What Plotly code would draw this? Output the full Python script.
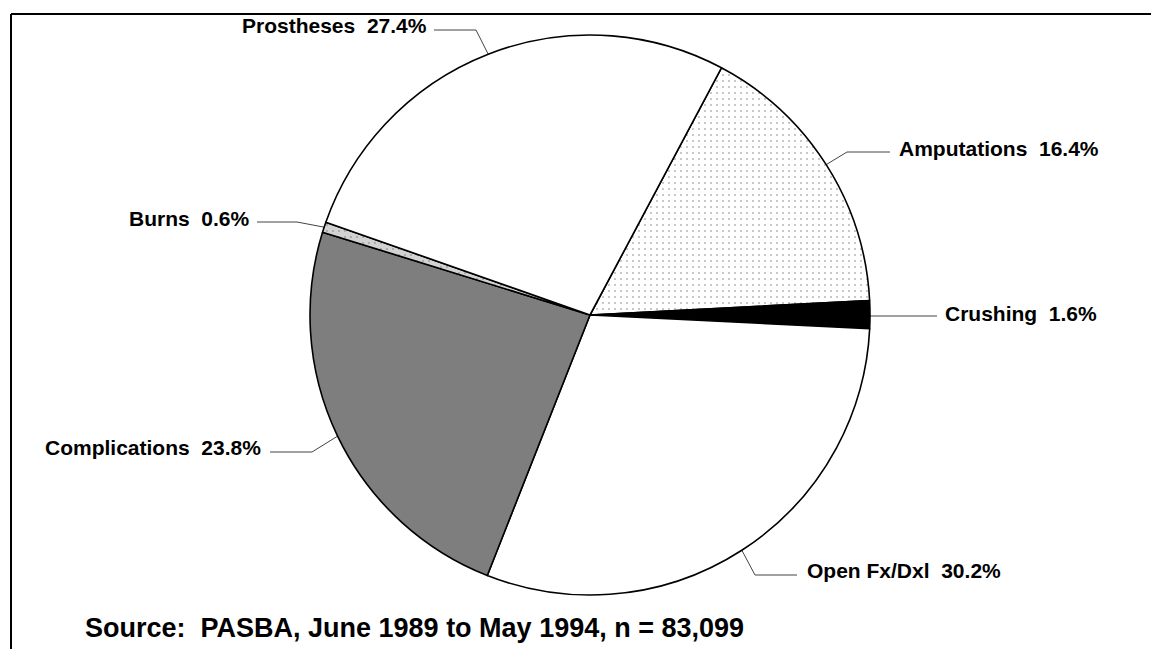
import math
import plotly.graph_objects as go

# ---- data ----
categories = ["Amputations", "Crushing", "Open Fx/Dxl", "Complications", "Burns", "Prostheses"]
percents = [16.4, 1.6, 30.2, 23.8, 0.6, 27.4]
source_note = "Source:  PASBA, June 1989 to May 1994, n = 83,099"

# ---- style / layout ----
W, H = 1151, 649
CX, CY, R = 590, 315, 280
ROTATION = 28
fills = ["#ffffff", "#000000", "#ffffff", "#7e7e7e", "#d2d2d2", "#ffffff"]
pattern_shapes = [".", "", "", "", ".", ""]
LABEL_FONT = dict(family="Liberation Sans, Arial, sans-serif", size=21, color="#000000")

# label layout: text left x, text y, elbow x, line end x, line y
label_layout = {
    "Amputations":   dict(tx=897, ty=148, ex=847, lx=890, ly=152),
    "Crushing":      dict(tx=943, ty=313, ex=900, lx=937, ly=316),
    "Open Fx/Dxl":   dict(tx=805, ty=570, ex=755, lx=797, ly=575),
    "Complications": dict(tx=43,  ty=447, ex=312, lx=270, ly=452),
    "Burns":         dict(tx=127, ty=218, ex=297, lx=257, ly=222),
    "Prostheses":    dict(tx=240, ty=25,  ex=476, lx=434, ly=30),
}

fig = go.Figure()

fig.add_trace(go.Pie(
    labels=categories,
    values=percents,
    sort=False,
    direction="clockwise",
    rotation=ROTATION,
    textinfo="none",
    hoverinfo="skip",
    showlegend=False,
    marker=dict(
        colors=fills,
        line=dict(color="#000000", width=1.6),
        pattern=dict(shape=pattern_shapes, fgcolor="#666666", bgcolor=fills,
                     size=6, solidity=0.08, fillmode="overlay"),
    ),
    domain=dict(x=[(CX - R) / W, (CX + R) / W], y=[1 - (CY + R) / H, 1 - (CY - R) / H]),
))

# leader lines: start at the rim, at each slice's middle angle (computed from the data)
total = sum(percents)
angle = ROTATION
for cat, val in zip(categories, percents):
    span = val / total * 360.0
    mid = math.radians(angle + span / 2)
    angle += span
    px = CX + R * math.sin(mid)
    py = CY - R * math.cos(mid)
    L = label_layout[cat]
    if cat == "Crushing":
        xs, ys = [px, L["lx"]], [L["ly"], L["ly"]]
    else:
        xs, ys = [px, L["ex"], L["lx"]], [py, L["ly"], L["ly"]]
    fig.add_trace(go.Scatter(x=xs, y=ys, mode="lines", line=dict(color="#444444", width=1),
                             hoverinfo="skip", showlegend=False))
    fig.add_annotation(x=L["tx"], y=L["ty"], xref="x", yref="y", xanchor="left", yanchor="middle",
                       text=f"<b>{cat}\u00a0\u00a0{val:.1f}%</b>", showarrow=False, font=LABEL_FONT)

fig.add_annotation(x=83, y=628, xref="x", yref="y", xanchor="left", yanchor="middle",
                   text=f"<b>{source_note.replace('  ', chr(160) * 2)}</b>", showarrow=False,
                   font=dict(family="Liberation Sans, Arial, sans-serif", size=27, color="#000000"))

# frame lines (top and left)
fig.add_shape(type="line", xref="x", yref="y", x0=11, y0=14, x1=W, y1=14, line=dict(color="#000", width=2))
fig.add_shape(type="line", xref="x", yref="y", x0=11, y0=14, x1=11, y1=H, line=dict(color="#000", width=2))

fig.update_layout(
    width=W, height=H,
    margin=dict(l=0, r=0, t=0, b=0),
    paper_bgcolor="#ffffff", plot_bgcolor="rgba(0,0,0,0)",
    xaxis=dict(range=[0, W], visible=False, fixedrange=True),
    yaxis=dict(range=[H, 0], visible=False, fixedrange=True),
)

fig.write_html("out.html", config={"displayModeBar": False},
               post_script="document.body.style.margin='0px';document.body.style.overflow='hidden';")
